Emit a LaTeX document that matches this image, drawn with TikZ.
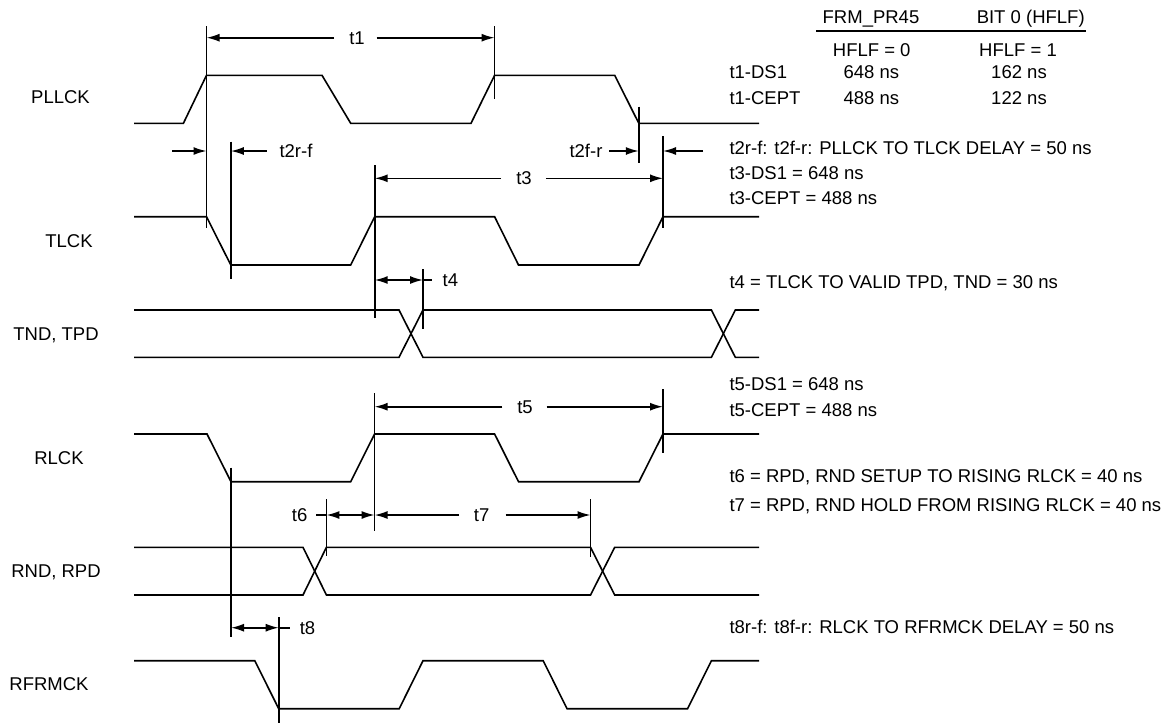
\documentclass[tikz,border=0pt]{standalone}
\usepackage{fontspec}
\setmainfont{Liberation Sans}
\usetikzlibrary{arrows.meta}
\usetikzlibrary{positioning}
\tikzstyle{sig} = [draw, line width=1.6pt, line join=miter]
\tikzstyle{vline} = [draw, line width=1.6pt]
\tikzstyle{dim} = [draw, line width=1.6pt, -{Latex[length=13pt,width=8pt]}]
\tikzstyle{ddim} = [draw, line width=1.6pt, {Latex[length=13pt,width=8pt]}-{Latex[length=13pt,width=8pt]}]
\tikzstyle{txt} = [inner sep=0pt, text height=13.3pt, text depth=0pt, font=\fontsize{18.5}{22}\selectfont]
\tikzstyle{note} = [txt, anchor=west]

\begin{document}
\begin{tikzpicture}[x=1pt, y=-1pt]
	\useasboundingbox (0,0) rectangle (1174,724);
	%% Signal names
	\node [txt] (PLLCK) at (60.5,97) {PLLCK};
	\node [txt] (TLCK) at (69,241) {TLCK};
	\node [txt] (TND) at (56,334) {TND, TPD};
	\node [txt] (RLCK) at (59,458) {RLCK};
	\node [txt] (RND) at (56,571) {RND, RPD};
	\node [txt] (RFRMCK) at (49,684) {RFRMCK};
	%% Waveforms
	\path [sig] (134,123.3) -- (183.4,123.3) -- (206.5,75.3) -- (322,75.3) -- (350.7,123.3) -- (471,123.3)
		-- (494.6,75.3) -- (614.7,75.3) -- (638.8,123.3) -- (759,123.3);
	\path [sig] (134,216.7) -- (206.5,216.7) -- (230.8,265) -- (350.7,265) -- (374.7,216.7) -- (494.6,216.7)
		-- (518.5,265) -- (639,265) -- (663,216.7) -- (759,216.7);
	\path [sig] (134,310) -- (399,310) -- (423,357.3) -- (711.4,357.3) -- (735.3,310) -- (759,310);
	\path [sig] (134,357.3) -- (399,357.3) -- (423,310) -- (711.4,310) -- (735.3,357.3) -- (759,357.3);
	\path [sig] (134,434) -- (207,434) -- (231,481.7) -- (350.7,481.7) -- (374.6,434) -- (494.6,434)
		-- (518.5,481.7) -- (639,481.7) -- (663,434) -- (759,434);
	\path [sig] (134,547.3) -- (303,547.3) -- (326.4,595) -- (590.5,595) -- (614.7,547.3) -- (759,547.3);
	\path [sig] (134,595) -- (303,595) -- (326.4,547.3) -- (590.5,547.3) -- (614.7,595) -- (759,595);
	\path [sig] (134,660.7) -- (254.8,660.7) -- (278.7,708.7) -- (399.2,708.7) -- (423,660.7) -- (543.2,660.7)
		-- (567,708.7) -- (687.6,708.7) -- (711.4,660.7) -- (759,660.7);
	%% Reference lines
	\coordinate (a1) at (206.5,26);   \coordinate (a2) at (206.5,228.3);
	\coordinate (b1) at (494.6,26);   \coordinate (b2) at (494.6,99.3);
	\coordinate (c1) at (230.8,141.7); \coordinate (c2) at (230.8,279.3);
	\coordinate (d1) at (638.8,106.7); \coordinate (d2) at (638.8,162.7);
	\coordinate (e1) at (663,136);    \coordinate (e2) at (663,228);
	\coordinate (f1) at (374.7,165);  \coordinate (f2) at (374.7,318.3);
	\coordinate (g1) at (423,269.3);  \coordinate (g2) at (423,329.3);
	\coordinate (h1) at (374.6,393.3); \coordinate (h2) at (374.6,531);
	\coordinate (i1) at (663,389.3);  \coordinate (i2) at (663,453.3);
	\coordinate (j1) at (231,467.7);  \coordinate (j2) at (231,637.3);
	\coordinate (k1) at (326.4,499);  \coordinate (k2) at (326.4,555.7);
	\coordinate (l1) at (590.5,499.3); \coordinate (l2) at (590.5,557.3);
	\coordinate (m1) at (278.7,617.3); \coordinate (m2) at (278.7,723.3);
	\path [vline] (a1) -- (a2);
	\path [vline] (b1) -- (b2);
	\path [vline] (c1) -- (c2);
	\path [vline] (d1) -- (d2);
	\path [vline] (e1) -- (e2);
	\path [vline] (f1) -- (f2);
	\path [vline] (g1) -- (g2);
	\path [vline] (h1) -- (h2);
	\path [vline] (i1) -- (i2);
	\path [vline] (j1) -- (j2);
	\path [vline] (k1) -- (k2);
	\path [vline] (l1) -- (l2);
	\path [vline] (m1) -- (m2);
	%% Timing arrows
	\node [txt] (T1) at (357,37.7) {t1};
	\path [dim] (334,37.7) -- (a1 |- T1);
	\path [dim] (376.7,37.7) -- (b1 |- T1);
	\node [txt] (T2rf) at (296,151) {t2r-f};
	\path [dim] (172,151) -- (a1 |- T2rf);
	\path [dim] (266.5,151) -- (c1 |- T2rf);
	\node [txt] (T2fr) at (586,151) {t2f-r};
	\path [dim] (609,151) -- (d1 |- T2fr);
	\path [dim] (703,151) -- (e1 |- T2fr);
	\node [txt] (T3) at (524,178.3) {t3};
	\path [dim] (501,178.3) -- (f1 |- T3);
	\path [dim] (545.8,178.3) -- (e1 |- T3);
	\node [txt] (T4) at (450.4,280) {t4};
	\path [ddim] (f1 |- T4) -- (g1 |- T4);
	\path [vline] (g1 |- T4) -- (431.7,280);
	\node [txt] (T5) at (525,406.7) {t5};
	\path [dim] (502.4,406.7) -- (h1 |- T5);
	\path [dim] (546.7,406.7) -- (i1 |- T5);
	\node [txt] (T6) at (299.6,515) {t6};
	\path [vline] (316,515) -- (k1 |- T6);
	\path [ddim] (k1 |- T6) -- (h1 |- T6);
	\node [txt] (T7) at (481.6,515) {t7};
	\path [dim] (459,515) -- (h1 |- T7);
	\path [dim] (505.5,515) -- (l1 |- T7);
	\node [txt] (T8) at (307.5,627.7) {t8};
	\path [ddim] (j1 |- T8) -- (m1 |- T8);
	\path [vline] (m1 |- T8) -- (289.5,627.7);
	%% Table
	\node [txt] (hA) at (871,17.3) {FRM\_PR45};
	\node [txt] (hB) at (1030.7,17.3) {BIT 0 (HFLF)};
	\path [draw, line width=1.8pt] (816,31.3) -- (1086,31.3);
	\node [txt] (hA0) at (871.7,50) {HFLF = 0};
	\node [txt] (hB1) at (1018,50) {HFLF = 1};
	\node [note] (r1) at (729.3,72.3) {t1-DS1};
	\node [txt] (r1a) at (871.3,72.3) {648 ns};
	\node [txt] (r1b) at (1019,72.3) {162 ns};
	\node [note] (r2) at (729.3,98.3) {t1-CEPT};
	\node [txt] (r2a) at (871.3,98.3) {488 ns};
	\node [txt] (r2b) at (1019,98.3) {122 ns};
	%% Notes
	\node [note] (n2) at (729.3,148.3) {t2r-f: t2f-r: PLLCK TO TLCK DELAY = 50 ns};
	\node [note] (n3a) at (729.3,173.3) {t3-DS1 = 648 ns};
	\node [note] (n3b) at (729.3,198.3) {t3-CEPT = 488 ns};
	\node [note] (n4) at (729.3,281.7) {t4 = TLCK TO VALID TPD, TND = 30 ns};
	\node [note] (n5a) at (729.3,384) {t5-DS1 = 648 ns};
	\node [note] (n5b) at (729.3,410) {t5-CEPT = 488 ns};
	\node [note] (n6) at (729.3,476) {t6 = RPD, RND SETUP TO RISING RLCK = 40 ns};
	\node [note] (n7) at (729.3,505) {t7 = RPD, RND HOLD FROM RISING RLCK = 40 ns};
	\node [note] (n8) at (729.3,626.7) {t8r-f: t8f-r: RLCK TO RFRMCK DELAY = 50 ns};
\end{tikzpicture}
\end{document}
